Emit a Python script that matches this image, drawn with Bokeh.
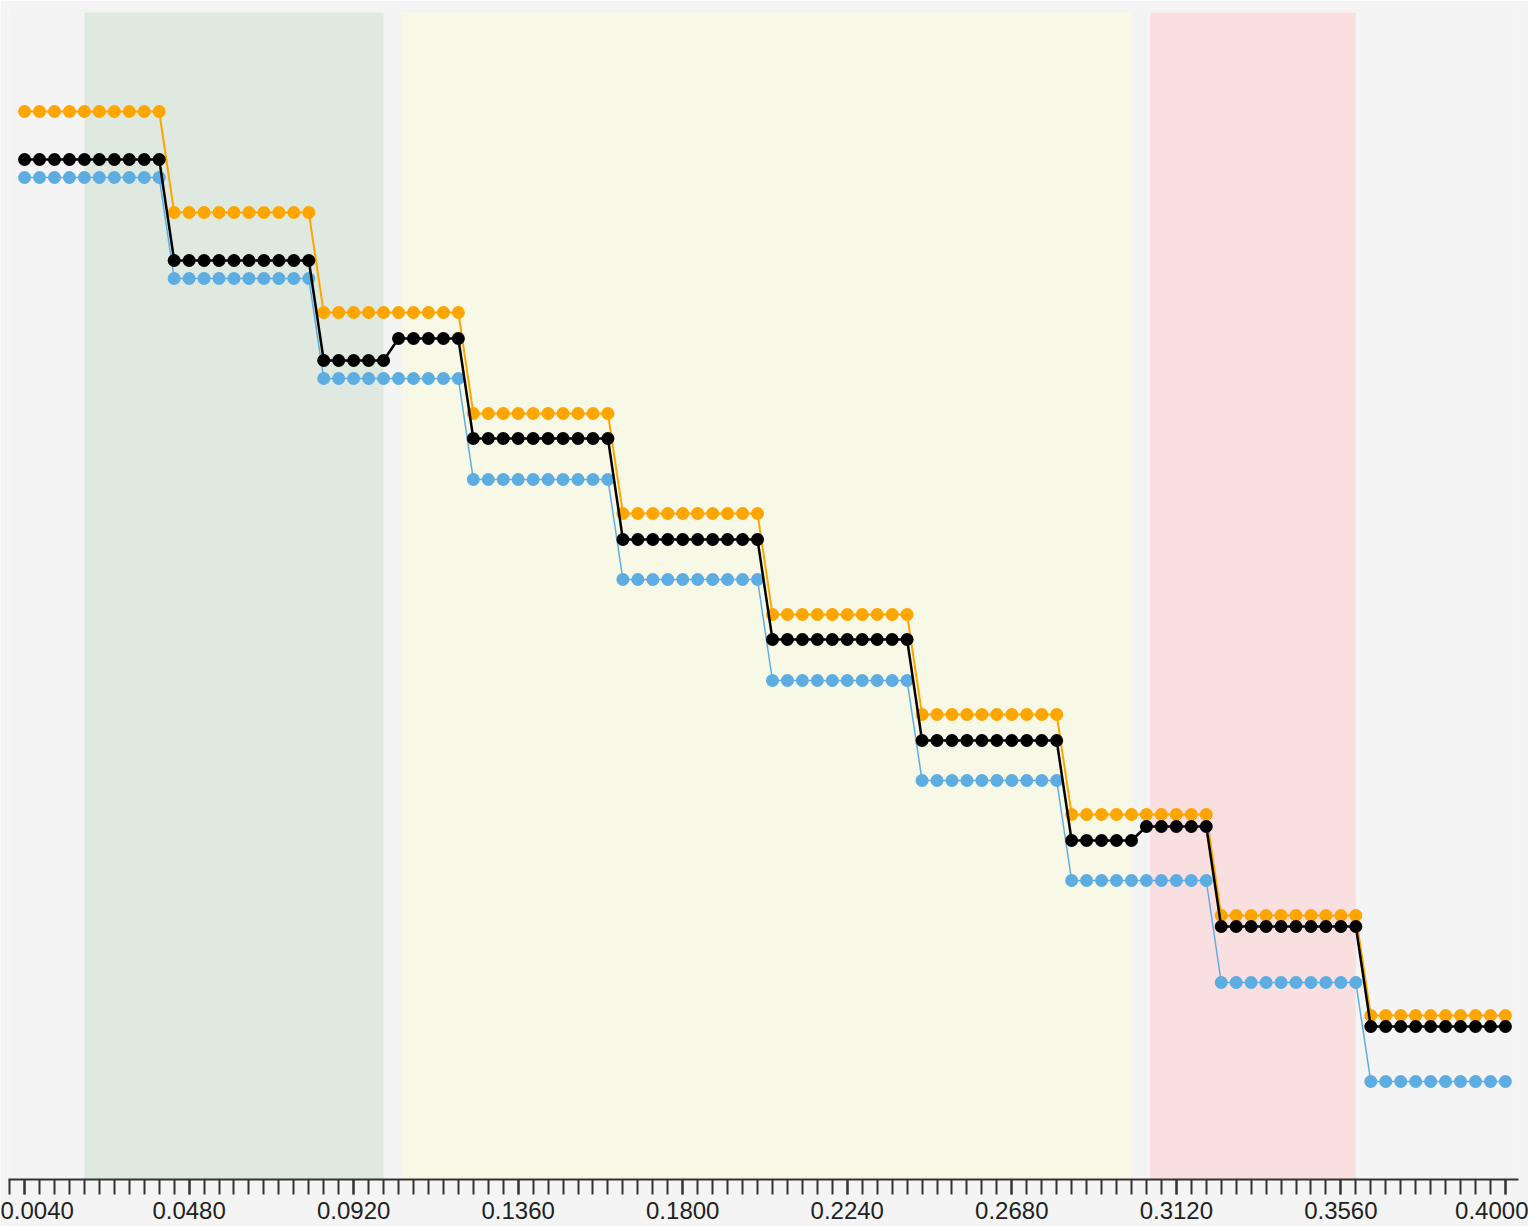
import numpy as np
from bokeh.plotting import figure
from bokeh.models import Range1d, FixedTicker, PrintfTickFormatter
from bokeh.embed import file_html
from bokeh.resources import INLINE

# ---- data ----
x_vals = [round(0.004 * (i + 1), 3) for i in range(100)]

orange_steps = [1068, 967, 867, 766, 666, 565, 465, 365, 264, 164]
blue_steps = [1002, 901, 801, 700, 600, 499, 399, 299, 197, 98]
black_half_steps = [1020, 1020, 919, 919, 819, 841, 741, 741, 640, 640,
                    540, 540, 439, 439, 339, 353, 253, 253, 153, 153]

orange_vals = list(np.repeat(orange_steps, 10))
blue_vals = list(np.repeat(blue_steps, 10))
black_vals = list(np.repeat(black_half_steps, 5))

band_left = [0.020, 0.105, 0.305]
band_right = [0.100, 0.300, 0.360]
band_colors = ["#dfe9df", "#f8f8e6", "#f9dfe0"]
band_top = 1167

major_ticks = [0.004, 0.048, 0.092, 0.136, 0.180, 0.224, 0.268, 0.312, 0.356, 0.400]
minor_ticks = [round(0.004 * i, 3) for i in range(101)]

BG = "#f4f4f4"

p = figure(frame_width=1510, frame_height=1171,
           x_range=Range1d(-0.0003, 0.4035), y_range=Range1d(0, 1171),
           output_backend="svg", toolbar_location=None,
           y_axis_location=None,
           min_border_left=8, min_border_right=10, min_border_top=8,
           min_border_bottom=47)
p.background_fill_color = BG
p.border_fill_color = BG
p.outline_line_color = None
p.grid.visible = False

ax = p.xaxis[0]
ax.ticker = FixedTicker(ticks=major_ticks, minor_ticks=minor_ticks)
ax.formatter = PrintfTickFormatter(format="%.4f")
ax.axis_line_width = 2
ax.axis_line_color = "#333333"
ax.major_tick_line_width = 2
ax.minor_tick_line_width = 2
ax.major_tick_line_color = "#333333"
ax.minor_tick_line_color = "#333333"
ax.major_tick_out = 15
ax.minor_tick_out = 15
ax.major_tick_in = 0
ax.minor_tick_in = 0
ax.major_label_standoff = 7
ax.major_label_text_font = "Liberation Sans"
ax.major_label_text_font_size = "24px"
ax.major_label_text_color = "#222222"

p.quad(left=band_left, right=band_right, bottom=0, top=band_top,
       fill_color=band_colors, line_color=None)

p.line(x_vals, orange_vals, line_color="#ffa500", line_width=2)
p.scatter(x_vals, orange_vals, size=13, fill_color="#ffa500", line_color=None)

p.line(x_vals, blue_vals, line_color="#5dade2", line_width=1.5)
p.scatter(x_vals, blue_vals, size=13, fill_color="#5dade2", line_color=None)

p.line(x_vals, black_vals, line_color="#000000", line_width=2.5)
p.scatter(x_vals, black_vals, size=13, fill_color="#000000", line_color=None)

html = file_html(p, INLINE)
html = html.replace("<body>", '<body style="margin:0;background:%s">' % BG, 1)
open("out.html", "w").write(html)
